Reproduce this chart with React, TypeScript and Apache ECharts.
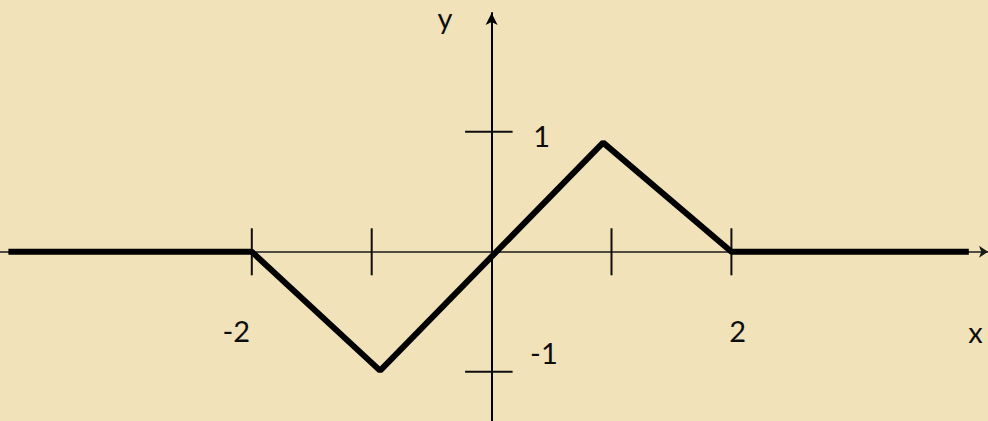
import React, { useEffect, useRef } from 'react';
import * as echarts from 'echarts';

// piecewise-linear curve (x, y)
const curveX = [-4.03, -2, -0.93, 0.93, 2, 3.98];
const curveY = [0, 0, -0.99, 0.91, 0, 0];

// axis ticks and their labels
const xTicks = [-2, -1, 1, 2];
const xTickLabels = ['-2', '', '', '2'];
const yTicks = [1, -1];
const yTickLabels = ['1', '-1'];
const xAxisName = 'x';
const yAxisName = 'y';

// layout (pixel offsets of tick labels from their tick, not data)
const xLabelOffsets = [[-15.6, 79], [0, 0], [0, 0], [6.3, 78.5]];
const yLabelOffsets = [[50, 4], [52.3, -19]];

const FONT = 'Lato, "Open Sans", sans-serif';
const FONT_SIZE = 29;
const INK = '#0d0d0d';

export default function App() {
  const ref = useRef<HTMLDivElement>(null);

  useEffect(() => {
    if (!ref.current) return;
    const chart = echarts.init(ref.current, undefined, { renderer: 'svg' });

    const textStyle = (text: string) => ({
      text,
      fill: INK,
      fontFamily: FONT,
      fontSize: FONT_SIZE,
      align: 'center',
      verticalAlign: 'middle',
    });

    chart.setOption({
      animation: false,
      backgroundColor: '#F2E2BA',
      grid: { left: 0, right: 0, top: 13, bottom: 0, containLabel: false },
      xAxis: {
        type: 'value',
        min: -4.1,
        max: 4.14,
        axisLine: {
          show: true,
          onZero: true,
          symbol: ['none', 'arrow'],
          symbolSize: [9, 9],
          lineStyle: { color: '#1a1a1a', width: 1.5 },
        },
        axisTick: { show: false },
        axisLabel: { show: false },
        splitLine: { show: false },
      },
      yAxis: {
        type: 'value',
        min: -1.41,
        max: 1.99,
        axisLine: {
          show: true,
          onZero: true,
          symbol: ['none', 'arrow'],
          symbolSize: [9, 12],
          lineStyle: { color: '#000', width: 2 },
        },
        axisTick: { show: false },
        axisLabel: { show: false },
        splitLine: { show: false },
      },
      graphic: [
        { type: 'text', x: 975.5, y: 331.5, style: textStyle(xAxisName) },
        { type: 'text', x: 445, y: 17, style: textStyle(yAxisName) },
      ],
      series: [
        {
          type: 'custom',
          coordinateSystem: 'cartesian2d',
          clip: false,
          z: 3,
          data: xTicks.map((v) => [v, 0]),
          encode: { x: 0, y: 1 },
          renderItem: (params: any, api: any) => {
            const i = params.dataIndex;
            const p = api.coord([xTicks[i], 0]);
            const children: any[] = [
              {
                type: 'line',
                shape: { x1: p[0], y1: p[1] - 23.5, x2: p[0], y2: p[1] + 23.5 },
                style: { stroke: INK, lineWidth: 2 },
              },
            ];
            if (xTickLabels[i]) {
              children.push({
                type: 'text',
                x: p[0] + xLabelOffsets[i][0],
                y: p[1] + xLabelOffsets[i][1],
                style: textStyle(xTickLabels[i]),
              });
            }
            return { type: 'group', children };
          },
        },
        {
          type: 'custom',
          coordinateSystem: 'cartesian2d',
          clip: false,
          z: 3,
          data: yTicks.map((v) => [0, v]),
          encode: { x: 0, y: 1 },
          renderItem: (params: any, api: any) => {
            const i = params.dataIndex;
            const p = api.coord([0, yTicks[i]]);
            const children: any[] = [
              {
                type: 'line',
                shape: { x1: p[0] - 26.5, y1: p[1], x2: p[0] + 21, y2: p[1] },
                style: { stroke: INK, lineWidth: 2 },
              },
            ];
            if (yTickLabels[i]) {
              children.push({
                type: 'text',
                x: p[0] + yLabelOffsets[i][0],
                y: p[1] + yLabelOffsets[i][1],
                style: textStyle(yTickLabels[i]),
              });
            }
            return { type: 'group', children };
          },
        },
        {
          type: 'line',
          z: 4,
          data: curveX.map((x, i) => [x, curveY[i]]),
          symbol: 'none',
          lineStyle: { color: '#000', width: 6, cap: 'butt', join: 'bevel' },
        },
      ],
    });

    return () => chart.dispose();
  }, []);

  return (
    <div
      ref={ref}
      style={{ position: 'absolute', left: 0, top: 0, width: 988, height: 421 }}
    />
  );
}
